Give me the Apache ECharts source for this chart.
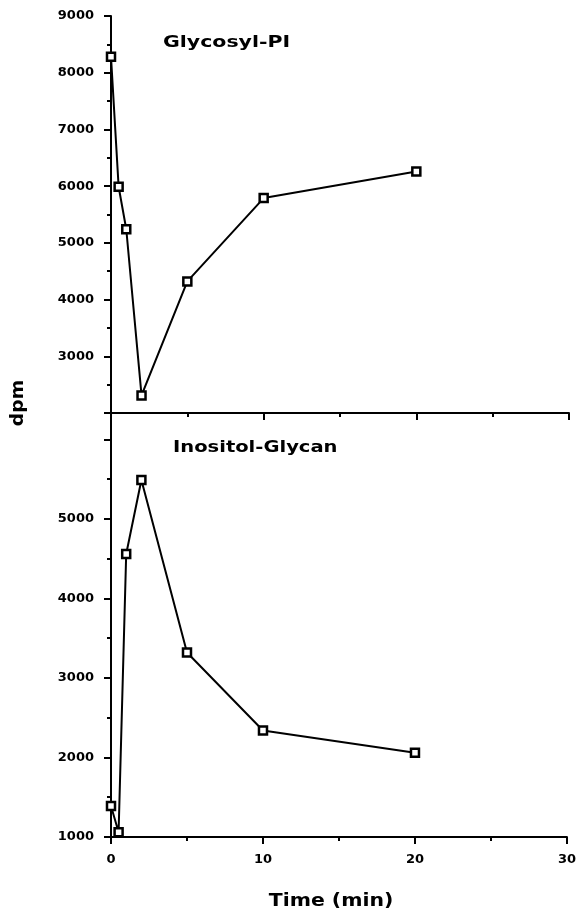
<!DOCTYPE html>
<html>
<head>
<meta charset="utf-8">
<script src="https://cdn.jsdelivr.net/npm/echarts@6/dist/echarts.min.js"></script>
<style>html,body{margin:0;padding:0;background:#fff}#c{width:579px;height:912px}</style>
</head>
<body>
<div id="c"></div>
<script>
var timeMin = [0, 0.5, 1, 2, 5, 10, 20];
var glycosylPI = [8280, 5990, 5240, 2310, 4320, 5790, 6260];
var inositolGlycan = [1390, 1060, 4560, 5490, 3320, 2340, 2060];
var xTicks = [0, 10, 20, 30];
var topYTicks = [3000, 4000, 5000, 6000, 7000, 8000, 9000];
var bottomYTicks = [1000, 2000, 3000, 4000, 5000];

var FONT = 'DejaVu Sans';
function pairs(xs, ys) { return xs.map(function (x, i) { return [x, ys[i]]; }); }

var chart = echarts.init(document.getElementById('c'));
var lbl = { fontFamily: FONT, fontWeight: 'bold', fontSize: 13, color: '#000' };
function xAxisDef(grid, showLabel) {
  return {
    type: 'value', gridIndex: grid, min: 0, max: 30, interval: 10, position: 'bottom',
    axisLine: { show: true, onZero: false, lineStyle: { color: '#000', width: 2 } },
    axisTick: { show: true, length: 7, lineStyle: { color: '#000', width: 2 } },
    minorTick: { show: true, splitNumber: 2, length: 4, lineStyle: { color: '#000', width: 2 } },
    splitLine: { show: false },
    axisLabel: Object.assign({ show: showLabel, margin: 16, formatter: function (v) { return xTicks.indexOf(v) >= 0 ? String(v) : ''; } }, lbl)
  };
}
function yMajor(grid, mn, mx, ticks) {
  return {
    type: 'value', gridIndex: grid, min: mn, max: mx, interval: 1000, position: 'left',
    axisLine: { show: true, onZero: false, lineStyle: { color: '#000', width: 2 } },
    axisTick: { show: true, length: 7, lineStyle: { color: '#000', width: 2 } },
    splitLine: { show: false },
    axisLabel: Object.assign({ margin: 17, showMaxLabel: true, showMinLabel: true,
      formatter: function (v) { return ticks.indexOf(v) >= 0 ? String(v) : ''; } }, lbl)
  };
}
function yMinor(grid, mn, mx) {
  return {
    type: 'value', gridIndex: grid, min: mn, max: mx, interval: 500, position: 'left',
    axisLine: { show: false, onZero: false },
    axisTick: { show: true, length: 4, lineStyle: { color: '#000', width: 2 } },
    splitLine: { show: false },
    axisLabel: { show: false }
  };
}
var seriesStyle = {
  type: 'line', symbol: 'rect', symbolSize: 8,
  itemStyle: { color: '#fff', borderColor: '#000', borderWidth: 2.5 },
  lineStyle: { color: '#000', width: 2 },
  clip: false, silent: true, animation: false
};
chart.setOption({
  animation: false,
  backgroundColor: '#fff',
  grid: [
    { left: 111, top: 16, width: 458, height: 397 },
    { left: 111, top: 413, width: 458, height: 424 }
  ],
  xAxis: [xAxisDef(0, false), xAxisDef(1, true)],
  yAxis: [
    yMajor(0, 2000, 9000, topYTicks), yMinor(0, 2000, 9000),
    yMajor(1, 1000, 6333, bottomYTicks), yMinor(1, 1000, 6333)
  ],
  series: [
    Object.assign({ name: 'Glycosyl-PI', xAxisIndex: 0, yAxisIndex: 0, data: pairs(timeMin, glycosylPI) }, seriesStyle),
    Object.assign({ name: 'Inositol-Glycan', xAxisIndex: 1, yAxisIndex: 2, data: pairs(timeMin, inositolGlycan) }, seriesStyle)
  ],
  graphic: [
    { type: 'text', x: 163, y: 43, scaleX: 1.28, style: { text: 'Glycosyl-PI', fontFamily: FONT, fontWeight: 'bold', fontSize: 16, fill: '#000', textVerticalAlign: 'middle', verticalAlign: 'middle' } },
    { type: 'text', x: 173, y: 448, scaleX: 1.22, style: { text: 'Inositol-Glycan', fontFamily: FONT, fontWeight: 'bold', fontSize: 16, fill: '#000', textVerticalAlign: 'middle', verticalAlign: 'middle' } },
    { type: 'text', x: 331, y: 902, scaleX: 1.2, style: { text: 'Time (min)', fontFamily: FONT, fontWeight: 'bold', fontSize: 17, fill: '#000', align: 'center', textAlign: 'center', verticalAlign: 'middle', textVerticalAlign: 'middle' } },
    { type: 'text', x: 19, y: 403, rotation: Math.PI / 2, scaleX: 1.1, style: { text: 'dpm', fontFamily: FONT, fontWeight: 'bold', fontSize: 17, fill: '#000', align: 'center', textAlign: 'center', verticalAlign: 'middle', textVerticalAlign: 'middle' } }
  ]
});
</script>
</body>
</html>
